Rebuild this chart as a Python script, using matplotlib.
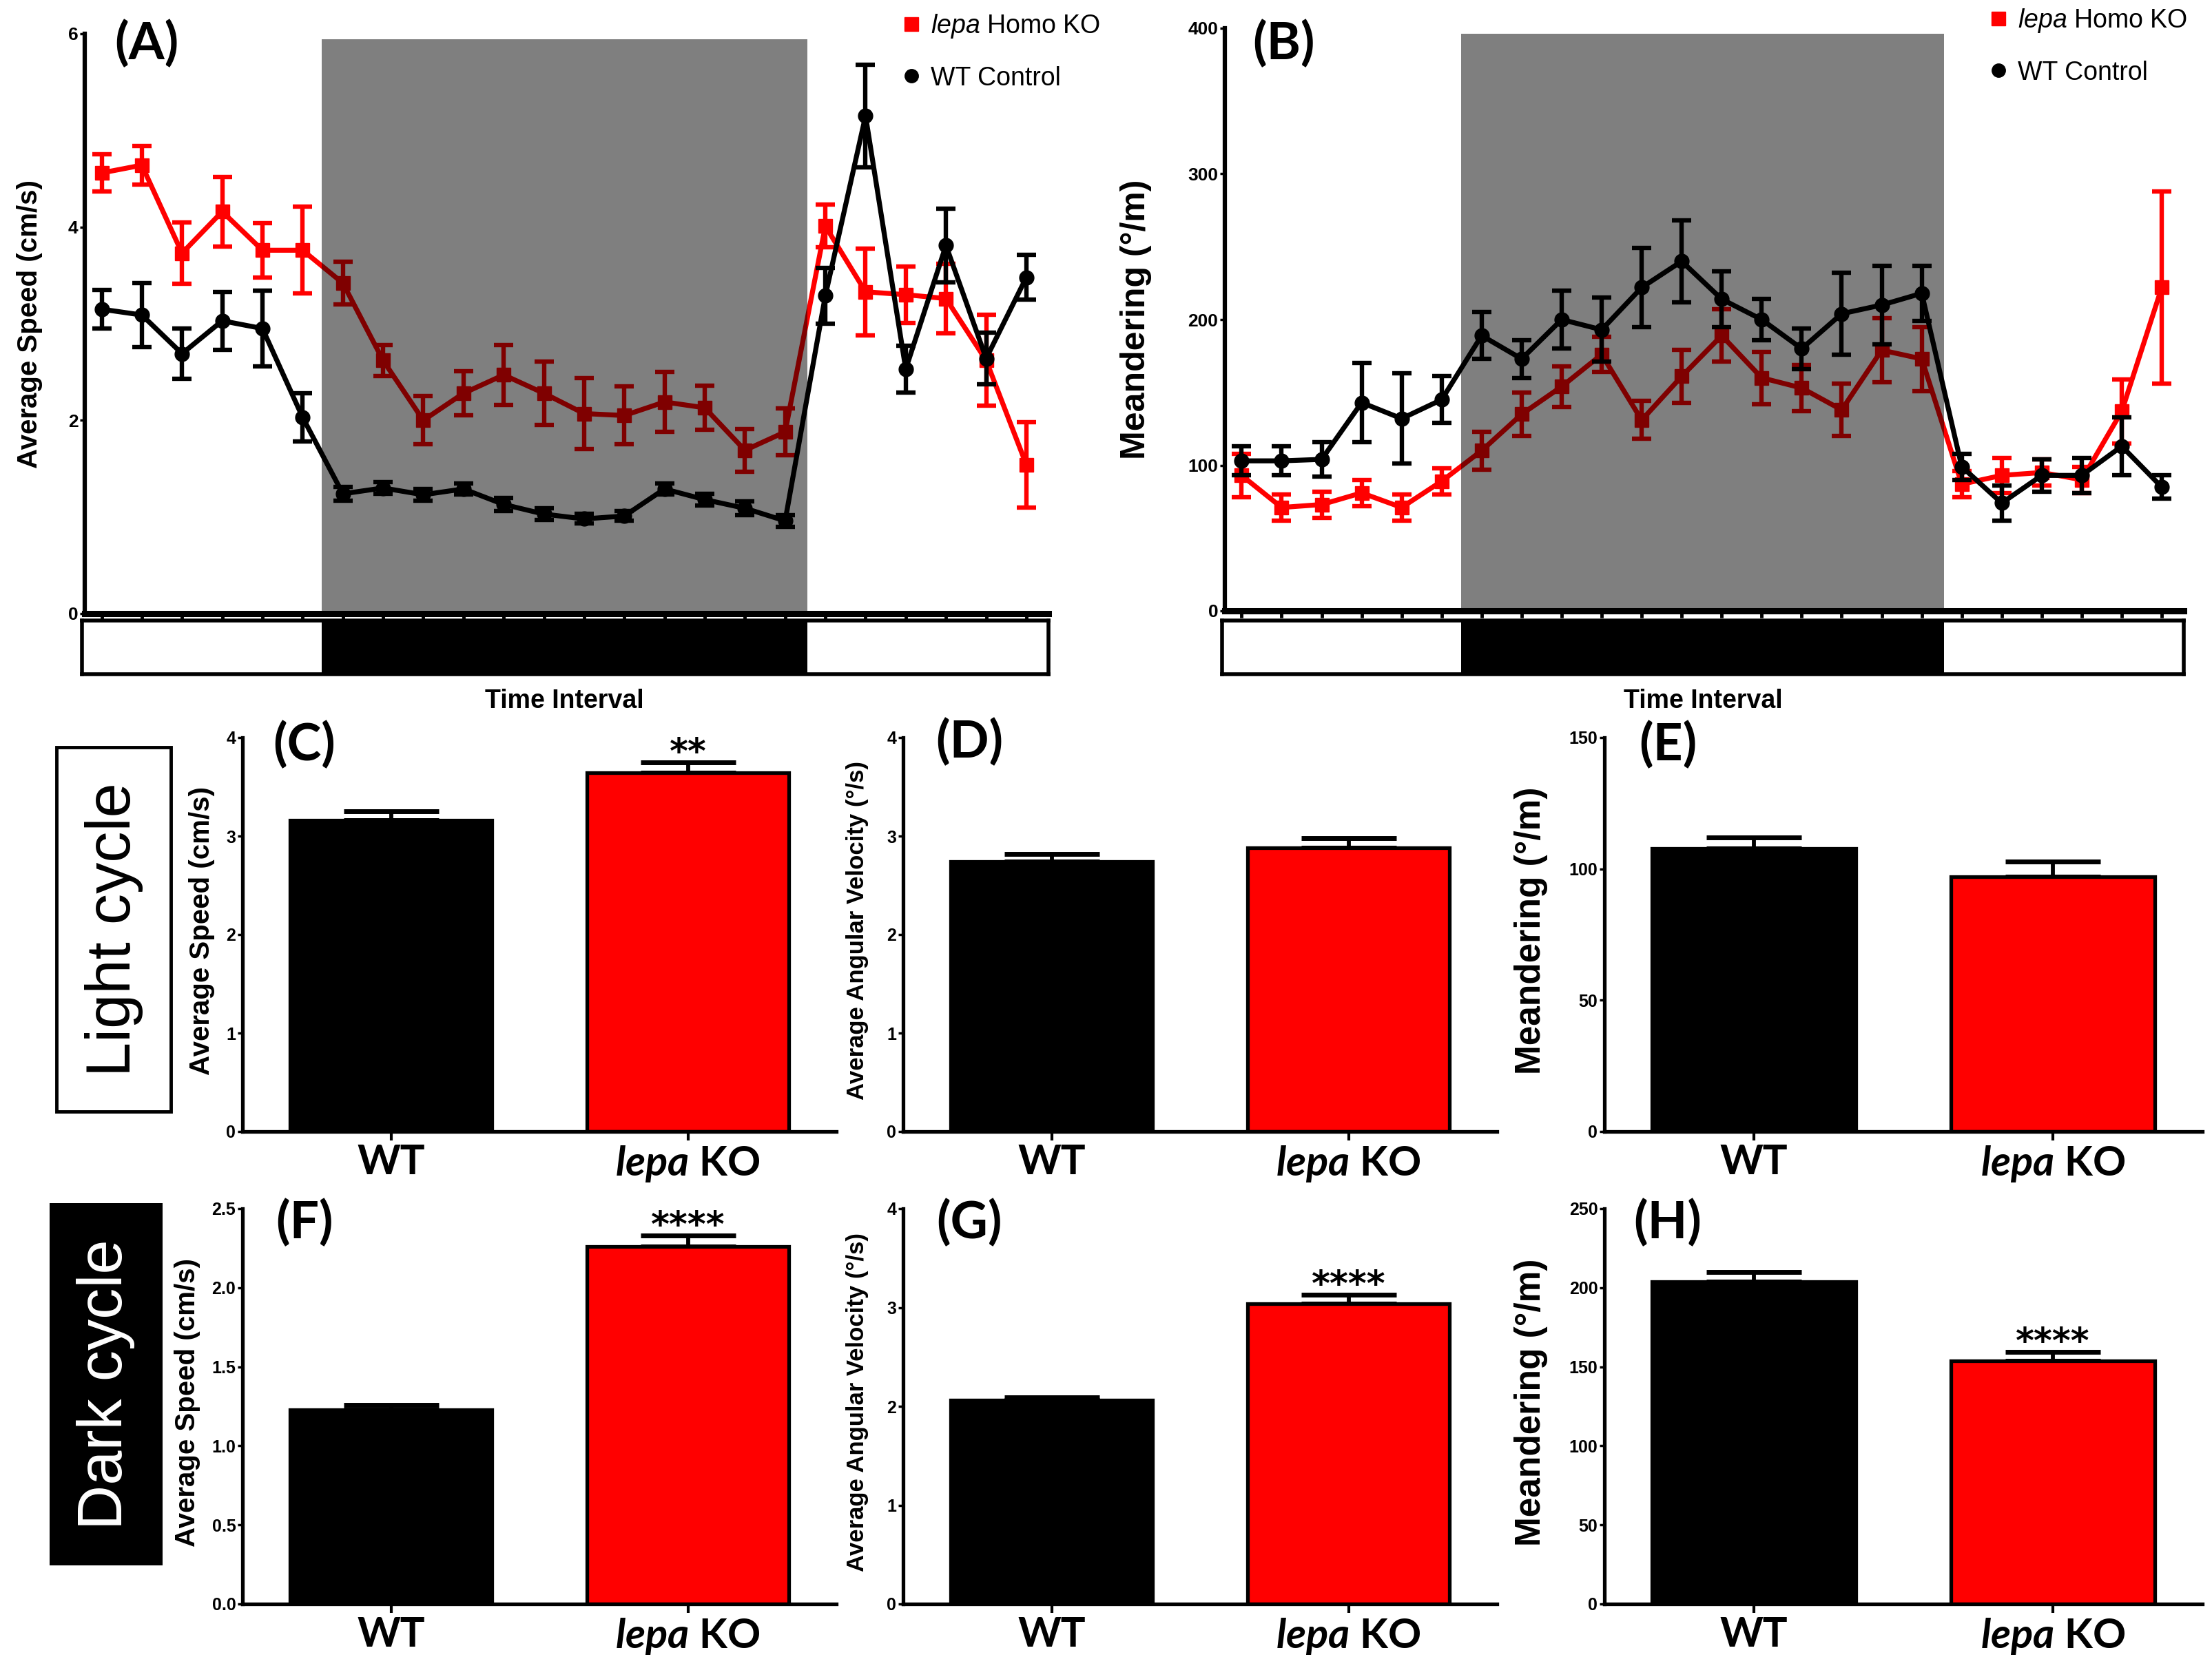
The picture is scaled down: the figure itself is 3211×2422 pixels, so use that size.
import matplotlib
matplotlib.use('Agg')
import matplotlib.pyplot as plt
import numpy as np
from matplotlib import font_manager
from matplotlib.lines import Line2D
from matplotlib.patches import Rectangle

names = {f.name for f in font_manager.fontManager.ttflist}
def pick(*c):
    for n in c:
        if n in names:
            return n
    return 'DejaVu Sans'
NARROW = pick('Liberation Sans Narrow', 'Liberation Sans')
ARIAL = pick('Liberation Sans', 'DejaVu Sans')
CAL = pick('Lato', 'Open Sans', 'Noto Sans')

plt.rcParams['mathtext.fontset'] = 'custom'
plt.rcParams['mathtext.it'] = f'{NARROW}:italic'
plt.rcParams['mathtext.rm'] = NARROW
plt.rcParams['mathtext.sf'] = f'{CAL}:italic:bold'

RED = '#FF0000'

# ---------------- data ----------------
time = np.arange(24)
speed_ko = [4.56, 4.64, 3.73, 4.16, 3.76, 3.76, 3.42, 2.62, 2.00, 2.28, 2.47, 2.28,
            2.07, 2.05, 2.19, 2.13, 1.69, 1.88, 4.01, 3.33, 3.30, 3.26, 2.62, 1.54]
speed_ko_err = [0.19, 0.20, 0.32, 0.36, 0.28, 0.45, 0.22, 0.16, 0.25, 0.23, 0.31, 0.33,
                0.37, 0.30, 0.31, 0.23, 0.22, 0.24, 0.22, 0.45, 0.29, 0.36, 0.47, 0.44]
speed_wt = [3.15, 3.09, 2.69, 3.03, 2.95, 2.03, 1.24, 1.30, 1.23, 1.29, 1.13, 1.03,
            0.98, 1.01, 1.29, 1.18, 1.09, 0.96, 3.29, 5.15, 2.53, 3.81, 2.64, 3.48]
speed_wt_err = [0.20, 0.33, 0.26, 0.30, 0.39, 0.25, 0.07, 0.06, 0.06, 0.06, 0.07, 0.06,
                0.05, 0.05, 0.06, 0.06, 0.07, 0.06, 0.29, 0.53, 0.24, 0.38, 0.27, 0.23]

meander_ko = [93, 71, 73, 81, 71, 89, 110, 135, 154, 176, 131, 161,
              189, 160, 153, 138, 179, 173, 87, 93, 95, 90, 137, 222]
meander_ko_err = [15, 9, 9, 9, 9, 9, 13, 15, 14, 12, 13, 18,
                  18, 18, 16, 18, 22, 22, 9, 12, 9, 9, 22, 66]
meander_wt = [103, 103, 104, 143, 132, 145, 189, 173, 200, 193, 222, 240,
              214, 200, 180, 204, 210, 218, 99, 74, 93, 93, 113, 85]
meander_wt_err = [10, 10, 12, 27, 31, 16, 16, 13, 20, 22, 27, 28,
                  19, 14, 14, 28, 27, 19, 9, 12, 11, 12, 20, 8]

dark_start, dark_end = 5.48, 17.55

groups = ['WT', r'$\mathsf{lepa}$ KO']
light_speed = [3.16, 3.64]
light_speed_err = [0.09, 0.11]
light_angvel = [2.74, 2.88]
light_angvel_err = [0.08, 0.10]
light_meander = [107.7, 97.1]
light_meander_err = [4.3, 5.6]
dark_speed = [1.23, 2.26]
dark_speed_err = [0.03, 0.07]
dark_angvel = [2.06, 3.04]
dark_angvel_err = [0.03, 0.09]
dark_meander = [203.9, 153.6]
dark_meander_err = [6.2, 5.8]
light_sig = [['', '**'], ['', ''], ['', '']]
dark_sig = [['', '****'], ['', '****'], ['', '****']]

W, H = 3211, 2422
fig = plt.figure(figsize=(W / 100, H / 100), dpi=100)


def fx(px):
    return px / W


def fy(py):
    return 1 - py / H


def timeline(left, right, top, bottom, ko, koe, wt, wte, ymax, yticks, ylabel,
             ylab_x, ylab_size, letter, letter_xy, leg_xy, ti_x):
    ax = fig.add_axes([fx(left), fy(bottom), fx(right - left), (bottom - top) / H])
    ax.errorbar(time, ko, yerr=koe, color=RED, lw=5.2, marker='s', ms=14,
                capsize=10, elinewidth=4.6, capthick=4.6, zorder=2)
    ax.errorbar(time, wt, yerr=wte, color='black', lw=5.2, marker='o', ms=15,
                capsize=10, elinewidth=4.6, capthick=4.6, zorder=3)
    ax.axvspan(dark_start, dark_end, ymin=0, ymax=0.99, color='black', alpha=0.5,
               lw=0, zorder=5)
    ax.set_xlim(-0.42, 23.55)
    ax.set_ylim(0, ymax)
    ax.set_yticks(yticks)
    ax.set_xticks(time)
    ax.set_xticklabels([])
    for s in ['top', 'right']:
        ax.spines[s].set_visible(False)
    ax.spines['left'].set_linewidth(4.5)
    ax.spines['bottom'].set_linewidth(6.5)
    ax.tick_params(axis='y', direction='out', length=5, width=2.5, pad=2,
                   labelsize=19)
    ax.tick_params(axis='x', direction='out', length=7, width=3.5)
    for t in ax.get_yticklabels():
        t.set_fontweight('bold')
        t.set_family(NARROW)
    ax.text(ylab_x, 0.5, ylabel, transform=ax.transAxes, rotation=90,
            ha='center', va='center', fontsize=ylab_size, fontweight='bold',
            family=ARIAL)
    # light/dark bar
    bx = fig.add_axes([fx(left - 4), fy(979), fx(right - left + 4), 78 / H])
    bx.set_xlim(-0.42 - 4 / ((right - left) / 23.97), 23.55)
    bx.set_ylim(0, 1)
    bx.axvspan(dark_start, dark_end, color='black', lw=0)
    bx.set_xticks([])
    bx.set_yticks([])
    for s in bx.spines.values():
        s.set_linewidth(4)
    fig.text(fx(ti_x), fy(1018), 'Time Interval', ha='center', va='center',
             fontsize=27, fontweight='bold', family=ARIAL)
    fig.text(fx(letter_xy[0]), fy(letter_xy[1]), letter, ha='center', va='center',
             fontsize=54, fontweight='bold', family=CAL)
    handles = [Line2D([], [], color=RED, marker='s', ls='none', ms=14),
               Line2D([], [], color='black', marker='o', ls='none', ms=14)]
    fig.legend(handles, [r'$\mathit{lepa}$ Homo KO', 'WT Control'],
               loc='upper left', bbox_to_anchor=(fx(leg_xy[0]), fy(leg_xy[1])),
               frameon=False, prop={'family': NARROW, 'size': 27},
               handletextpad=0.3, labelspacing=1.0, handlelength=0.9,
               borderaxespad=0, borderpad=0)
    return ax


timeline(123, 1522, 49, 891, speed_ko, speed_ko_err, speed_wt, speed_wt_err,
         6, [0, 2, 4, 6], 'Average Speed (cm/s)', -0.057, 29, '(A)', (213, 64),
         (1306, 18), 819)
timeline(1778, 3170, 41, 887, meander_ko, meander_ko_err, meander_wt, meander_wt_err,
         400, [0, 100, 200, 300, 400], 'Meandering (°/m)', -0.093, 36, '(B)', (1864, 64),
         (2884, 10), 2472)


def barpanel(left, top, bottom, vals, errs, sig, ymax, yticks, fmt, ylabel,
             ylab_x, ylab_size, letter, letter_xy, width_px=862):
    ax = fig.add_axes([fx(left), fy(bottom), fx(width_px), (bottom - top) / H])
    x = np.arange(len(groups))
    ax.bar(x, vals, width=0.68, color=['black', RED], edgecolor='black',
           linewidth=3.8, zorder=2)
    ax.errorbar(x, vals, yerr=[[0, 0], errs], fmt='none', ecolor='black',
                elinewidth=4.2, capsize=50, capthick=5, zorder=1)
    for i, s in enumerate(sig):
        if s:
            ax.annotate(s, (x[i], vals[i] + errs[i]), xytext=(0, -1),
                        textcoords='offset points', ha='center', va='baseline',
                        fontsize=37, fontweight='bold', family='DejaVu Sans')
    ax.set_xlim(-0.5, 1.5)
    ax.set_ylim(0, ymax)
    ax.set_yticks(yticks)
    ax.set_yticklabels([fmt.format(v) for v in yticks])
    ax.set_xticks(x)
    ax.set_xticklabels(groups)
    for s in ['top', 'right']:
        ax.spines[s].set_visible(False)
    ax.spines['left'].set_linewidth(3.8)
    ax.spines['bottom'].set_linewidth(3.8)
    ax.tick_params(axis='y', direction='out', length=5, width=2.5, pad=2,
                   labelsize=18)
    ax.tick_params(axis='x', direction='out', length=9, width=3, pad=4,
                   labelsize=43)
    for t in ax.get_yticklabels():
        t.set_fontweight('bold')
        t.set_family(NARROW)
    for t in ax.get_xticklabels():
        t.set_fontweight('bold')
        t.set_family(CAL)
    ax.text(ylab_x, 0.51, ylabel, transform=ax.transAxes, rotation=90,
            ha='center', va='center', fontsize=ylab_size, fontweight='bold',
            family=ARIAL)
    fig.text(fx(letter_xy[0]), fy(letter_xy[1]), letter, ha='center', va='center',
             fontsize=54, fontweight='bold', family=CAL)
    return ax


r2t, r2b = 1071, 1643
r3t, r3b = 1755, 2329
barpanel(352, r2t, r2b, light_speed, light_speed_err, light_sig[0], 4, [0, 1, 2, 3, 4],
         '{:.0f}', 'Average Speed (cm/s)', -0.068, 29, '(C)', (442, 1082))
barpanel(1311, r2t, r2b, light_angvel, light_angvel_err, light_sig[1], 4, [0, 1, 2, 3, 4],
         '{:.0f}', 'Average Angular Velocity (°/s)', -0.077, 25, '(D)', (1407, 1078))
barpanel(2329, r2t, r2b, light_meander, light_meander_err, light_sig[2], 150,
         [0, 50, 100, 150], '{:.0f}', 'Meandering (°/m)', -0.123, 37, '(E)',
         (2421, 1082), width_px=868)
barpanel(352, r3t, r3b, dark_speed, dark_speed_err, dark_sig[0], 2.5,
         [0, 0.5, 1.0, 1.5, 2.0, 2.5], '{:.1f}', 'Average Speed (cm/s)', -0.093, 29,
         '(F)', (442, 1776))
barpanel(1311, r3t, r3b, dark_angvel, dark_angvel_err, dark_sig[1], 4, [0, 1, 2, 3, 4],
         '{:.0f}', 'Average Angular Velocity (°/s)', -0.077, 25, '(G)', (1407, 1776))
barpanel(2329, r3t, r3b, dark_meander, dark_meander_err, dark_sig[2], 250,
         [0, 50, 100, 150, 200, 250], '{:.0f}', 'Meandering (°/m)', -0.123, 37, '(H)',
         (2421, 1776), width_px=868)

# light / dark cycle boxes
fig.add_artist(Rectangle((fx(82), fy(1614)), fx(166), 529 / H, transform=fig.transFigure,
                         facecolor='white', edgecolor='black', linewidth=3.5))
fig.text(fx(165), fy(1350), 'Light cycle', rotation=90, ha='center', va='center',
         fontsize=65, family=ARIAL, color='black')
fig.add_artist(Rectangle((fx(72), fy(2273)), fx(164), 526 / H, transform=fig.transFigure,
                         facecolor='black', edgecolor='black', linewidth=0))
fig.text(fx(154), fy(2010), 'Dark cycle', rotation=90, ha='center', va='center',
         fontsize=65, family=ARIAL, color='white')

fig.savefig('out.png', dpi=100)
